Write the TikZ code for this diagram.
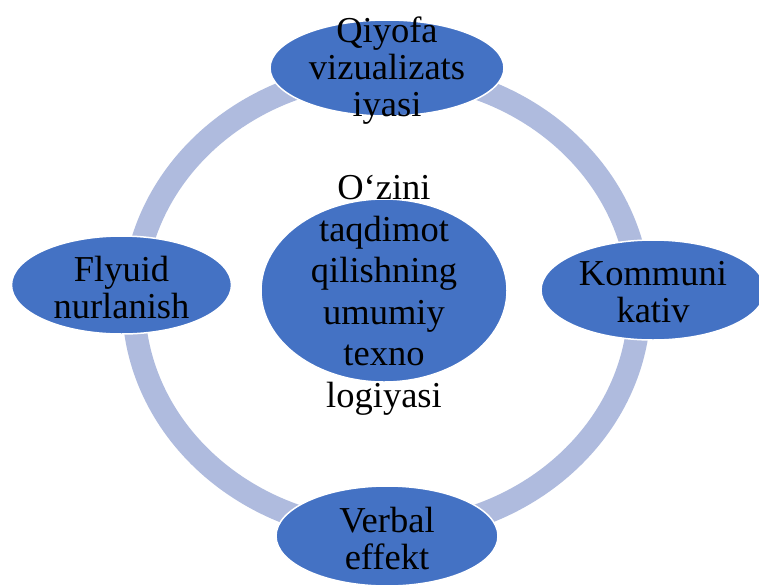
\documentclass[tikz,border=0pt]{standalone}
\usepackage{fontspec}
\setmainfont{Liberation Serif}
\usetikzlibrary{shapes.geometric}
\definecolor{ringc}{HTML}{AFBBDE}
\definecolor{blobc}{HTML}{4472C4}
\tikzset{
  blob/.style={ellipse, fill=blobc, draw=white, line width=1.5pt, inner sep=0pt},
  txt/.style={align=center, inner sep=0pt, text=black, font=\fontsize{36.5}{37}\selectfont, yshift=-2.5pt},
  ctxt/.style={align=center, inner sep=0pt, text=black, font=\fontsize{36.5}{41.5}\selectfont, yshift=-5pt}
}
\begin{document}
\begin{tikzpicture}[x=1pt,y=-1pt]
\clip (0,0) rectangle (759,584);
\fill[white] (0,0) rectangle (759,584);
% ring
\coordinate (rc) at (386.5,302);
\draw[ringc, line width=23pt] (rc) ellipse [x radius=253pt, y radius=229pt];
% nodes
\node[blob, minimum width=234pt, minimum height=96pt] (top) at (387,68) {};
\node[blob, minimum width=220pt, minimum height=98pt] (left) at (121.5,285) {};
\node[blob, minimum width=224pt, minimum height=100pt] (right) at (653,290) {};
\node[blob, minimum width=222pt, minimum height=100pt] (bot) at (387,536) {};
\node[blob, minimum width=246pt, minimum height=183pt] (ctr) at (384,290.5) {};
% texts
\node[txt] (ttop) at (top) {Qiyofa\\vizualizats\\iyasi};
\node[txt] (tleft) at (left) {Flyuid\\nurlanish};
\node[txt] (tright) at (right) {Kommuni\\kativ};
\node[txt] (tbot) at (bot) {Verbal\\effekt};
\node[ctxt] (tctr) at (ctr) {O‘zini\\taqdimot\\qilishning\\umumiy\\texno\\logiyasi};
\end{tikzpicture}
\end{document}
